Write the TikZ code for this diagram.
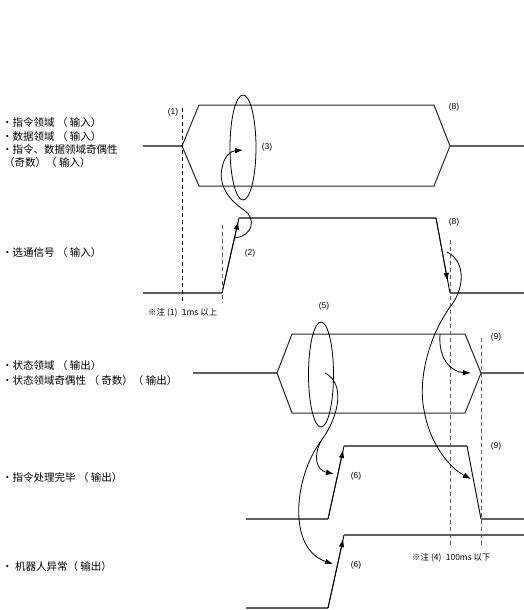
\documentclass[tikz,border=0pt]{standalone}
\usepackage{fontspec}
\setmainfont{Liberation Sans}
\newfontfamily\cjk{Noto Sans CJK SC}
\usetikzlibrary{arrows.meta}
\definecolor{sigc}{RGB}{95,95,95}
\begin{document}
\begin{tikzpicture}[x=1pt,y=-1pt,
  sig/.style={draw=sigc, line width=1.4pt},
  hexe/.style={draw=black!85, line width=1pt},
  edg/.style={draw=black, line width=0.9pt},
  bdsh/.style={draw=black, line width=0.8pt, dash pattern=on 4pt off 3pt},
  gdsh/.style={draw=sigc, line width=1pt, dash pattern=on 4pt off 3pt},
  arr/.style={-{Latex[length=8pt,width=5.5pt]}, line width=0.8pt},
  ell/.style={draw=black, line width=0.8pt},
  lbl/.style={font=\cjk\fontsize{10.5}{12}\selectfont, anchor=west, inner sep=0pt},
  num/.style={font=\fontsize{8.5}{10}\selectfont, inner sep=0pt},
  note/.style={font=\cjk\fontsize{8.5}{10}\selectfont, inner sep=0pt, anchor=west}]
\useasboundingbox (0,0) rectangle (524,610);

% ---- signal 1: command / data area (hexagon)
\coordinate (a0) at (143,146);
\coordinate (aL) at (182,146);
\coordinate (aTL) at (199,105);
\coordinate (aTR) at (434,105);
\coordinate (aR) at (450,146);
\coordinate (aBR) at (434,186);
\coordinate (aBL) at (199,186);
\coordinate (a9) at (524,146);
\draw[sig] (a0) -- (aL);
\draw[hexe] (aL) -- (aTL) -- (aTR) -- (aR) -- (aBR) -- (aBL) -- cycle;
\draw[sig] (aR) -- (a9);

% ---- signal 2: strobe
\coordinate (b0) at (143,293);
\coordinate (b1) at (222,293);
\coordinate (b2) at (239,218);
\coordinate (b2t) at (238.2,221.5);
\coordinate (b3) at (436,218);
\coordinate (b4) at (450,293);
\coordinate (b4t) at (447.6,281);
\coordinate (b9) at (524,293);
\draw[sig] (b0) -- (b1);
\draw[edg] (b1) -- (b2);
\draw[arr] (b1) -- (b2t);
\draw[sig] (b2) -- (b3);
\draw[edg] (b3) -- (b4);
\draw[arr] (b3) -- (b4t);
\draw[sig] (b4) -- (b9);

% ---- signal 3: status area (hexagon)
\coordinate (c0) at (193,373);
\coordinate (cL) at (277,373);
\coordinate (cTL) at (292,334);
\coordinate (cTR) at (465,334);
\coordinate (cR) at (481,373);
\coordinate (cBR) at (465,413);
\coordinate (cBL) at (292,413);
\coordinate (c9) at (524,373);
\draw[sig] (c0) -- (cL);
\draw[hexe] (cL) -- (cTL) -- (cTR) -- (cR) -- (cBR) -- (cBL) -- cycle;
\draw[sig] (cR) -- (c9);

% ---- signal 4: command complete
\coordinate (d0) at (246,519);
\coordinate (d1) at (328,519);
\coordinate (d2) at (344,446);
\coordinate (d2t) at (343.2,450);
\coordinate (d3) at (467,446);
\coordinate (d4) at (481,519);
\coordinate (d9) at (524,519);
\draw[sig] (d0) -- (d1);
\draw[edg] (d1) -- (d2);
\draw[arr] (d1) -- (d2t);
\draw[sig] (d2) -- (d3);
\draw[edg] (d3) -- (d4);
\draw[sig] (d4) -- (d9);

% ---- signal 5: robot error
\coordinate (e0) at (246,608);
\coordinate (e1) at (328,608);
\coordinate (e2) at (344,535);
\coordinate (e2t) at (343.2,539);
\coordinate (e9) at (524,535);
\draw[sig] (e0) -- (e1);
\draw[edg] (e1) -- (e2);
\draw[arr] (e1) -- (e2t);
\draw[sig] (e2) -- (e9);

% ---- dashed guide lines
\draw[bdsh] (182,108) -- (182,303);
\draw[gdsh] (222,225) -- (222,303);
\draw[gdsh] (450,240) -- (450,545);
\draw[gdsh] (481,338) -- (481,545);

% ---- ellipses
\draw[ell] (243,147.5) ellipse [x radius=13, y radius=52.5];
\draw[ell] (321,374.5) ellipse [x radius=12.5, y radius=52.5];

% ---- causal curves
\draw[arr] (234,238) .. controls (254,236) and (256,218) .. (244,210)
  .. controls (230,201) and (218,186) .. (222,168)
  .. controls (224,156) and (231,151) .. (243,150);
\draw[ell] (325,373) .. controls (345,383) and (340,415) .. (321,441);
\draw[arr] (321,441) .. controls (295,475) and (286,548) .. (333,564);
\draw[arr] (321,441) .. controls (313,456) and (316,470) .. (334,474);
\draw[ell] (447,252) .. controls (467,262) and (464,290) .. (450,307);
\draw[arr] (450,307) .. controls (428,338) and (418,380) .. (424,410)
  .. controls (430,445) and (450,468) .. (471,479);
\draw[arr] (440,334) .. controls (438,360) and (452,372) .. (471,373);

% ---- small labels
\node[num] (n1) at (173,112) {(1)};
\node[num] (n3) at (267,147) {(3)};
\node[num] (n2) at (250,253) {(2)};
\node[num] (n8a) at (454,107) {(8)};
\node[num] (n8b) at (454,222) {(8)};
\node[num] (n5) at (324,306) {(5)};
\node[num] (n9a) at (496,337) {(9)};
\node[num] (n9b) at (496,446) {(9)};
\node[num] (n6a) at (356,476) {(6)};
\node[num] (n6b) at (356,565) {(6)};
\node[note] (nt1) at (148,313) {※注 (1)\enspace 1ms 以上};
\node[note] (nt4) at (412,558) {※注 (4)\enspace 100ms 以下};

% ---- signal names
\node[lbl] (l1) at (2,123) {・指令领域 （ 输入）};
\node[lbl] (l2) at (2,137) {・数据领域 （ 输入）};
\node[lbl] (l3) at (2,150) {・指令、数据领域奇偶性};
\node[lbl] (l4) at (4,163) {（奇数）（ 输入）};
\node[lbl] (l5) at (2,253) {・选通信号 （ 输入）};
\node[lbl] (l6) at (2,366) {・状态领域 （ 输出）};
\node[lbl] (l7) at (2,381) {・状态领域奇偶性 （ 奇数）（ 输出）};
\node[lbl] (l8) at (2,478) {·指令处理完毕 （ 输出）};
\node[lbl] (l9) at (2,567) {・ 机器人异常（ 输出）};
\end{tikzpicture}
\end{document}
